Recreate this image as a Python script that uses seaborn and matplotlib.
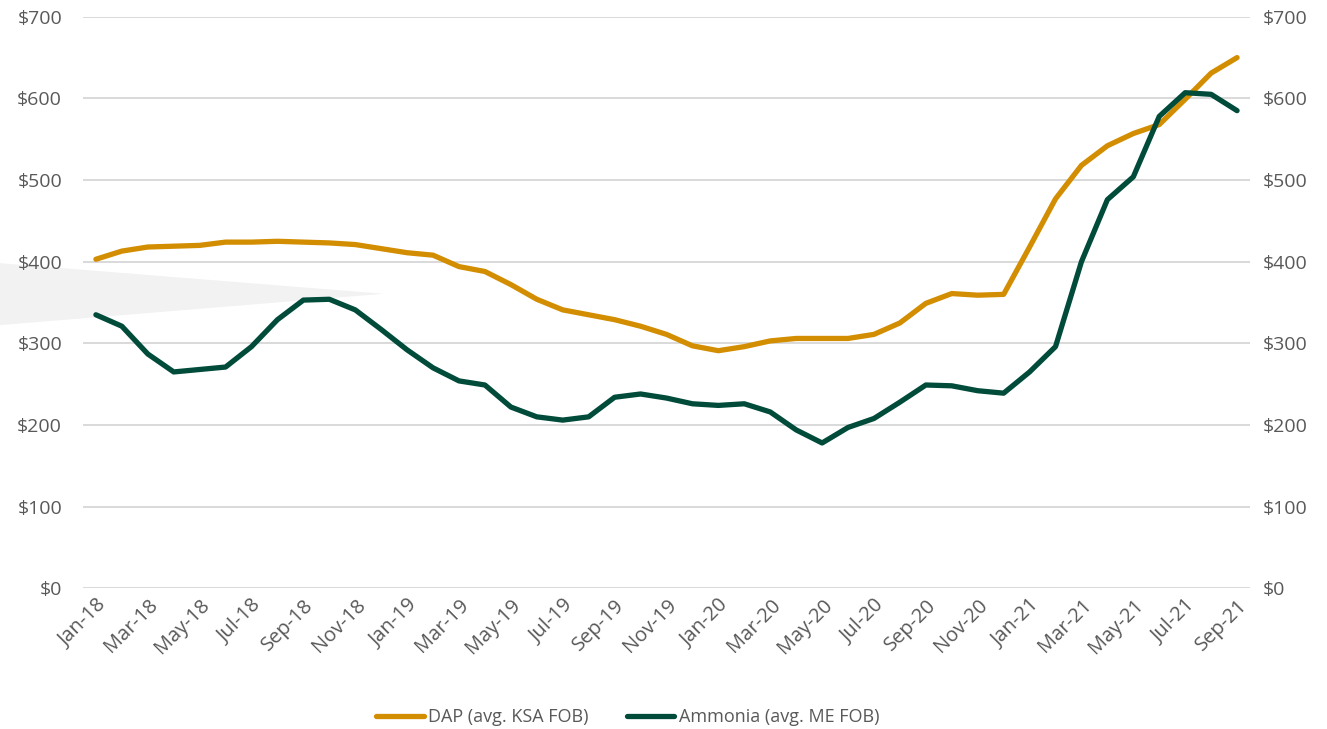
import numpy as np, pandas as pd
import matplotlib; matplotlib.use('Agg')
import matplotlib.pyplot as plt
import seaborn as sns
from matplotlib.patches import Polygon

# Donnees mensuelles Jan-18 -> Sep-21
months = pd.date_range("2018-01-01", "2021-09-01", freq="MS").strftime("%b-%y").tolist()
dap = [403, 413, 418, 419, 420, 424, 424, 425, 424, 423, 421, 416,
       411, 408, 394, 388, 372, 354, 341, 335, 329, 321, 311, 297,
       291, 296, 303, 306, 306, 306, 311, 325, 349, 361, 359, 360,
       418, 477, 518, 542, 557, 568, 599, 631, 650]
ammonia = [335, 321, 287, 265, 268, 271, 296, 329, 353, 354, 341, 317,
           292, 270, 254, 249, 222, 210, 206, 210, 234, 238, 233, 226,
           224, 226, 216, 194, 178, 197, 208, 228, 249, 248, 242, 239,
           265, 296, 400, 476, 504, 578, 607, 605, 585]
series_names = ["DAP (avg. KSA FOB)", "Ammonia (avg. ME FOB)"]
colors = ["#D38D00", "#004B3A"]

df = pd.DataFrame({"idx": np.arange(len(months)), series_names[0]: dap, series_names[1]: ammonia})
long = df.melt(id_vars="idx", var_name="serie", value_name="prix")

sns.set_style("white")
plt.rcParams['font.family'] = ['Open Sans', 'DejaVu Sans']
txt = "#595959"

fig = plt.figure(figsize=(13.27, 7.29), dpi=100)
ax = fig.add_axes([0.0625, 0.193, 0.8795, 0.784])

# forme grise a gauche (decor de la diapo), derriere les axes
fig.patches.append(Polygon([[0, 0.639], [0.289, 0.597], [0, 0.554]], closed=True,
                           transform=fig.transFigure, facecolor="#f2f2f2", edgecolor="none", zorder=-1))

sns.lineplot(data=long, x="idx", y="prix", hue="serie", palette=colors, linewidth=3.8,
             ax=ax, legend=False, zorder=3)

ax.set_xlim(-0.5, len(months) - 0.5)
ax.set_ylim(0, 700)
yt = np.arange(0, 701, 100)
ax.set_yticks(yt)
ax.set_yticklabels([f"${v}" for v in yt], fontsize=14, color=txt)
ax.set_xticks(np.arange(0, len(months), 2))
ax.set_xticklabels(months[::2], rotation=45, ha="right", rotation_mode="anchor", fontsize=14.5, color=txt)
ax.tick_params(axis="y", length=0, pad=15)
ax.tick_params(axis="x", length=0, pad=5)
ax.grid(axis="y", color="#d9d9d9", linewidth=1.4)
ax.set_axisbelow(True)
ax.patch.set_alpha(0)
for s in ax.spines.values():
    s.set_visible(False)
ax.set_xlabel(""); ax.set_ylabel("")

ax2 = ax.twinx()
ax2.set_ylim(0, 700)
ax2.set_yticks(yt)
ax2.set_yticklabels([f"${v}" for v in yt], fontsize=14, color=txt)
ax2.tick_params(axis="y", length=0, pad=9)
for s in ax2.spines.values():
    s.set_visible(False)

handles = [plt.Line2D([], [], color=c, linewidth=3.8) for c in colors]
fig.legend(handles, series_names, loc="center", bbox_to_anchor=(0.473, 0.016), ncol=2, frameon=False,
           fontsize=13, labelcolor=txt, handlelength=2.65, handletextpad=0.25, columnspacing=2.1)

fig.savefig("out.png", dpi=100)
print("DONE")
